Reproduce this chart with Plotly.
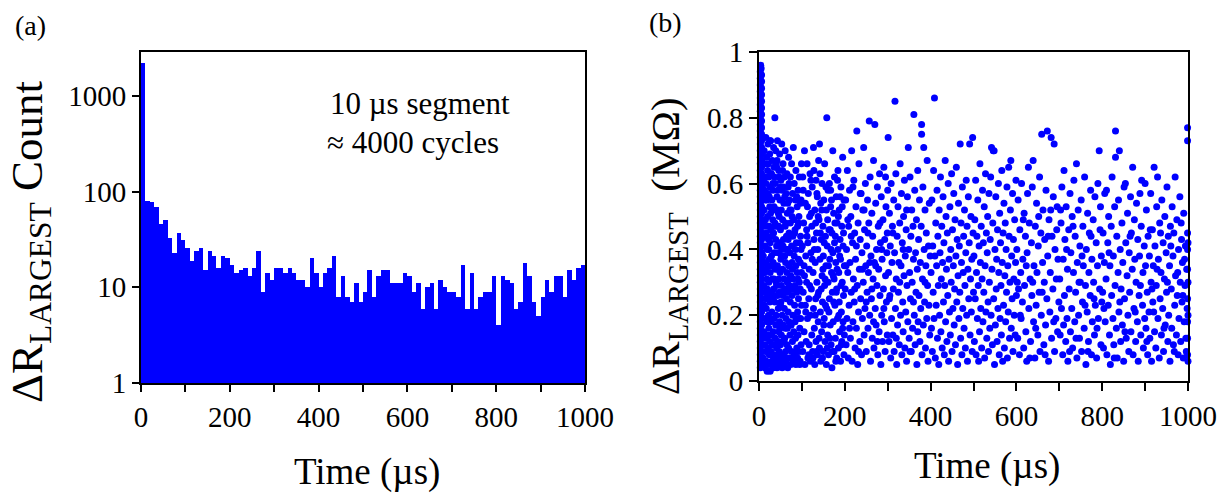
import plotly.graph_objects as go

W, H = 1228, 500
FONT = "Liberation Serif"
BLUE = "rgb(0,0,255)"

# ---------------- (a) histogram: counts per 10 us bin ----------------
bin_start_us = list(range(0, 1000, 10))
bin_counts = [
    2200, 80, 77, 69, 46, 50, 33, 23, 37, 31,
    26, 19, 24, 26, 15, 24, 21, 16, 21, 20,
    17, 14, 15, 16, 13, 16, 24, 9, 14, 12,
    16, 16, 14, 16, 14, 12, 12, 10, 20, 14,
    10, 14, 16, 21, 8, 13, 8, 7, 11, 7,
    9, 15, 8, 13, 15, 15, 11, 11, 11, 14,
    13, 9, 11, 6, 10, 11, 6, 12, 10, 9,
    9, 8, 17, 6, 14, 6, 8, 9, 9, 13,
    4, 13, 12, 11, 6, 7, 18, 13, 7, 5,
    8, 12, 9, 13, 13, 8, 15, 12, 16, 17,
]

# ---------------- (b) scatter: (time us, dR MOhm) ----------------
col_0_10 = [
    (3,.04),(6,.05),(3,.06),(6,.07),(3,.08),(6,.09),(3,.10),(6,.11),(3,.12),(6,.13),
    (3,.14),(6,.15),(3,.16),(6,.17),(3,.18),(6,.19),(3,.20),(6,.21),(3,.22),(6,.23),
    (3,.24),(6,.25),(3,.26),(6,.27),(3,.28),(6,.29),(3,.30),(6,.31),(3,.32),(6,.33),
    (3,.34),(6,.35),(3,.36),(6,.37),(3,.38),(6,.39),(3,.40),(6,.41),(3,.42),(6,.43),
    (3,.44),(6,.45),(3,.46),(6,.47),(3,.48),(6,.49),(3,.50),(6,.51),(3,.52),(6,.53),
    (3,.54),(6,.55),(3,.56),(6,.57),(3,.58),(6,.59),(3,.60),(6,.61),(3,.62),(6,.63),
    (3,.64),(6,.65),(3,.66),(6,.67),(3,.68),(6,.69),(3,.70),(6,.71),(3,.72),(6,.73),
    (3,.74),(6,.75),(3,.76),(6,.77),(3,.78),(6,.79),(3,.80),(6,.81),(3,.82),(6,.83),
    (3,.84),(6,.85),(3,.86),(6,.87),(3,.88),(6,.89),(3,.90),(6,.91),(3,.92),(6,.93),
    (3,.94),(5,.95),(4,.96),
]
seg_10_100 = [
    (10,.07),(10,.38),(10,.61),(11,.15),(11,.44),(11,.29),(12,.05),(12,.52),(12,.70),(12,.23),
    (13,.33),(13,.11),(13,.58),(14,.41),(14,.19),(14,.66),(14,.04),(15,.27),(15,.49),(15,.09),
    (16,.36),(16,.60),(16,.14),(16,.74),(17,.22),(17,.45),(17,.06),(18,.31),(18,.55),(18,.13),
    (18,.68),(19,.40),(19,.18),(19,.03),(20,.50),(20,.26),(20,.64),(21,.10),(21,.35),(21,.57),
    (21,.72),(22,.20),(22,.43),(22,.05),(23,.30),(23,.62),(23,.16),(24,.47),(24,.08),(24,.37),
    (24,.56),(25,.24),(25,.69),(25,.12),(26,.42),(26,.03),(26,.33),(26,.59),(27,.18),(27,.51),
    (27,.73),(28,.27),(28,.09),(28,.46),(29,.63),(29,.14),(29,.38),(30,.55),(30,.21),(30,.06),
    (30,.44),(31,.31),(31,.67),(31,.11),(32,.49),(32,.25),(32,.04),(33,.58),(33,.36),(33,.15),
    (34,.71),(34,.28),(34,.45),(35,.08),(35,.53),(35,.19),(36,.39),(36,.62),(36,.05),(37,.80),
    (37,.24),(37,.48),(38,.13),(38,.34),(38,.60),(39,.07),(39,.43),(39,.70),(40,.20),(40,.52),
    (40,.30),(41,.10),(41,.65),(41,.41),(42,.17),(42,.56),(42,.04),(43,.35),(43,.73),(43,.26),
    (44,.47),(44,.12),(44,.58),(45,.22),(45,.06),(45,.39),(46,.64),(46,.31),(46,.15),(47,.50),
    (47,.09),(47,.27),(48,.69),(48,.42),(48,.18),(49,.05),(49,.55),(49,.33),(50,.11),(50,.46),
    (50,.23),(51,.61),(51,.37),(51,.07),(52,.29),(52,.52),(52,.14),(53,.72),(53,.40),(54,.20),
    (54,.04),(54,.58),(55,.34),(55,.12),(55,.49),(56,.26),(56,.66),(57,.08),(57,.43),(57,.17),
    (58,.54),(58,.31),(59,.05),(59,.62),(59,.22),(60,.38),(60,.13),(61,.47),(61,.28),(61,.70),
    (62,.09),(62,.36),(63,.57),(63,.19),(63,.06),(64,.44),(64,.25),(65,.63),(65,.11),(65,.33),
    (66,.51),(66,.16),(67,.40),(67,.04),(67,.27),(68,.59),(68,.21),(69,.35),(69,.10),(69,.68),
    (70,.45),(70,.18),(71,.29),(71,.55),(71,.07),(72,.14),(72,.39),(73,.62),(73,.24),(73,.48),
    (74,.05),(74,.32),(75,.52),(75,.17),(76,.41),(76,.09),(76,.66),(77,.26),(77,.36),(78,.12),
    (78,.57),(79,.44),(79,.20),(80,.71),(80,.06),(80,.31),(81,.49),(81,.15),(82,.38),(82,.60),
    (83,.23),(83,.08),(84,.46),(84,.29),(85,.13),(85,.55),(86,.35),(86,.05),(86,.64),(87,.19),
    (87,.42),(88,.27),(88,.10),(89,.53),(89,.33),(90,.07),(90,.47),(90,.21),(91,.58),(91,.14),
    (92,.37),(92,.25),(93,.09),(93,.50),(94,.30),(94,.62),(95,.16),(95,.42),(96,.06),(96,.28),
    (97,.54),(97,.19),(98,.40),(98,.11),(99,.33),(99,.66),(99,.23),
    (11,.56),(13,.47),(15,.62),(17,.34),(19,.28),(20,.14),(22,.66),(23,.40),(25,.53),(27,.08),
    (28,.63),(29,.25),(31,.52),(33,.04),(34,.11),(35,.65),(36,.26),(38,.47),(39,.17),(41,.29),
    (42,.67),(44,.34),(45,.51),(47,.62),(48,.08),(50,.59),(51,.24),(53,.06),(55,.64),(56,.41),
    (58,.12),(60,.56),(62,.48),(64,.07),(66,.30),(68,.43),(70,.60),(72,.52),(74,.17),(77,.50),
    (79,.07),(81,.28),(83,.45),(85,.40),(88,.56),(91,.31),(93,.19),(95,.05),(97,.44),(12,.33),
    (14,.55),(16,.25),(18,.44),(21,.47),(24,.19),(26,.73),(30,.35),(32,.60),(35,.31),(37,.11),
    (40,.66),(43,.52),(46,.47),(49,.16),(52,.38),(54,.27),(57,.59),(61,.16),(63,.40),(67,.54),
    (70,.31),(75,.28),(78,.34),(84,.18),(87,.09),(92,.48),(96,.36),(98,.55),
]
seg_100_200 = [
    (101,.41),(102,.09),(102,.62),(103,.27),(104,.48),(105,.15),(105,.35),(106,.70),(107,.05),(108,.23),
    (108,.54),(109,.38),(110,.12),(111,.46),(111,.30),(112,.66),(113,.19),(114,.07),(114,.42),(115,.57),
    (116,.25),(117,.34),(117,.11),(118,.50),(119,.63),(120,.20),(120,.06),(121,.39),(122,.28),(123,.47),
    (123,.14),(124,.59),(125,.09),(126,.33),(127,.71),(127,.22),(128,.43),(129,.16),(130,.52),(130,.05),
    (131,.36),(132,.25),(133,.61),(133,.12),(134,.45),(135,.30),(136,.08),(136,.56),(137,.40),(138,.18),
    (139,.67),(139,.27),(140,.49),(141,.72),(141,.10),(142,.37),(143,.21),(144,.54),(144,.06),(145,.43),
    (146,.15),(147,.32),(147,.60),(148,.24),(149,.47),(150,.09),(150,.38),(151,.55),(152,.19),(153,.29),
    (153,.66),(154,.12),(155,.44),(156,.35),(157,.05),(157,.52),(158,.80),(158,.22),(159,.41),(160,.14),
    (161,.58),(161,.30),(162,.08),(163,.46),(164,.60),(164,.25),(165,.37),(166,.17),(167,.53),(167,.58),
    (168,.11),(169,.33),(170,.45),(170,.04),(171,.27),(172,.70),(172,.39),(173,.18),(174,.51),(175,.09),
    (175,.31),(176,.62),(177,.23),(178,.44),(178,.13),(179,.36),(180,.56),(181,.07),(181,.28),(182,.48),
    (183,.19),(184,.40),(184,.64),(185,.10),(186,.33),(187,.52),(187,.24),(188,.15),(189,.43),(190,.06),
    (190,.37),(191,.59),(192,.21),(193,.47),(193,.12),(194,.30),(195,.68),(196,.18),(196,.41),(197,.26),
    (198,.55),(198,.08),(199,.35),
    (103,.58),(106,.32),(109,.21),(112,.44),(113,.53),(116,.08),(118,.29),(121,.61),(122,.51),(124,.37),
    (126,.07),(128,.64),(129,.40),(131,.20),(132,.48),(134,.09),(135,.57),(137,.26),(138,.50),(140,.13),
    (142,.63),(143,.45),(145,.28),(146,.52),(148,.07),(149,.34),(151,.17),(152,.42),(154,.31),(155,.23),
    (156,.59),(159,.10),(160,.49),(162,.35),(163,.21),(165,.13),(166,.46),(168,.40),(169,.55),(171,.09),
    (173,.32),(174,.24),(176,.42),(177,.48),(179,.06),(180,.27),(182,.34),(183,.61),(185,.50),(186,.20),
    (188,.38),(189,.56),(191,.29),(192,.11),(194,.53),(195,.16),(197,.45),(199,.14),
]
seg_200_300 = [
    (201,.28),(202,.55),(203,.11),(204,.40),(205,.19),(206,.64),(207,.33),(208,.07),(209,.47),(210,.23),
    (211,.58),(212,.36),(213,.13),(214,.50),(215,.27),(216,.70),(217,.06),(218,.42),(219,.18),(220,.31),
    (221,.61),(222,.24),(223,.45),(224,.10),(225,.37),(226,.53),(227,.16),(228,.76),(229,.29),(230,.05),
    (231,.48),(232,.21),(233,.66),(234,.34),(235,.12),(236,.43),(237,.25),(238,.57),(239,.08),(240,.39),
    (241,.19),(242,.52),(243,.30),(244,.71),(245,.14),(246,.46),(247,.22),(248,.60),(249,.35),(250,.09),
    (251,.41),(252,.27),(253,.55),(254,.16),(255,.33),(256,.48),(257,.79),(258,.20),(259,.62),(260,.06),
    (261,.38),(262,.25),(263,.51),(264,.13),(265,.44),(266,.31),(267,.67),(268,.10),(269,.36),(270,.78),
    (271,.22),(272,.54),(273,.17),(274,.40),(275,.29),(276,.59),(277,.08),(278,.47),(279,.34),(280,.15),
    (281,.63),(282,.26),(283,.42),(284,.05),(285,.56),(286,.20),(287,.37),(288,.12),(289,.49),(290,.28),
    (291,.65),(292,.18),(293,.43),(294,.09),(295,.32),(296,.53),(297,.24),(298,.39),(299,.14),(300,.58),
    (203,.35),(207,.49),(211,.16),(215,.44),(219,.59),(223,.28),(227,.41),(232,.09),(236,.57),(241,.34),
    (245,.52),(250,.24),(254,.45),(258,.36),(263,.28),(267,.18),(272,.35),(276,.12),(282,.48),(286,.40),
    (291,.22),(295,.62),(299,.45),
]
seg_300_400 = [
    (301,.74),(302,.33),(303,.12),(304,.51),(305,.26),(306,.41),(307,.07),(308,.60),(309,.19),(310,.36),
    (311,.47),(312,.14),(313,.28),(314,.55),(315,.09),(316,.39),(317,.85),(318,.22),(319,.63),(320,.31),
    (321,.05),(322,.44),(323,.17),(324,.53),(325,.27),(326,.36),(327,.11),(328,.48),(329,.66),(330,.20),
    (331,.35),(332,.57),(333,.08),(334,.42),(335,.24),(336,.15),(337,.50),(338,.32),(339,.61),(340,.10),
    (341,.38),(342,.21),(343,.46),(344,.06),(345,.29),(346,.56),(347,.18),(348,.71),(349,.40),(350,.13),
    (351,.33),(352,.62),(353,.25),(354,.44),(355,.09),(356,.52),(357,.30),(358,.16),(359,.47),(360,.37),
    (361,.81),(362,.20),(363,.58),(364,.11),(365,.39),(366,.27),(367,.49),(368,.05),(369,.34),(370,.64),
    (371,.18),(372,.43),(373,.26),(374,.55),(375,.12),(376,.36),(377,.22),(378,.47),(379,.78),(379,.75),
    (380,.08),(381,.31),(382,.59),(383,.17),(384,.71),(385,.40),(386,.24),(387,.52),(388,.10),(389,.35),
    (390,.45),(391,.19),(392,.67),(393,.29),(394,.06),(395,.41),(396,.23),(397,.54),(398,.14),(399,.38),
    (304,.25),(312,.45),(320,.13),(328,.30),(336,.40),(344,.52),(352,.09),(360,.24),(370,.15),(387,.30),
]
seg_400_500 = [
    (401,.33),(402,.16),(403,.55),(404,.09),(405,.41),(406,.27),(407,.64),(408,.19),(409,.86),(410,.38),
    (411,.07),(412,.48),(413,.23),(414,.35),(415,.58),(416,.13),(417,.44),(418,.29),(419,.05),(420,.52),
    (421,.20),(422,.39),(423,.62),(424,.15),(425,.31),(426,.47),(427,.10),(428,.36),(429,.56),(430,.24),
    (431,.42),(432,.08),(433,.29),(434,.67),(435,.18),(436,.50),(437,.34),(438,.12),(439,.45),(440,.26),
    (441,.60),(442,.06),(443,.37),(444,.21),(445,.53),(446,.14),(447,.40),(448,.30),(449,.63),(450,.09),
    (451,.46),(452,.22),(453,.35),(454,.57),(455,.17),(456,.28),(457,.49),(458,.11),(459,.38),(460,.65),
    (461,.24),(462,.43),(463,.05),(464,.32),(465,.54),(466,.19),(467,.41),(468,.27),(469,.72),(470,.13),
    (471,.48),(472,.36),(473,.08),(474,.59),(475,.22),(476,.33),(477,.44),(478,.16),(479,.52),(480,.29),
    (481,.10),(482,.39),(483,.61),(484,.20),(485,.47),(486,.06),(487,.34),(488,.56),(489,.25),(490,.42),
    (491,.72),(492,.14),(493,.31),(494,.50),(495,.21),(496,.37),(497,.09),(498,.74),(499,.45),(500,.27),
]
seg_500_600 = [
    (501,.38),(502,.12),(503,.49),(504,.25),(505,.61),(506,.08),(507,.33),(508,.44),(509,.19),(510,.55),
    (511,.29),(512,.06),(513,.41),(514,.15),(515,.66),(516,.36),(517,.22),(518,.47),(519,.10),(520,.31),
    (521,.58),(522,.18),(523,.42),(524,.27),(525,.53),(526,.07),(527,.35),(528,.63),(529,.21),(530,.45),
    (531,.13),(532,.39),(533,.50),(534,.24),(535,.09),(536,.57),(537,.30),(538,.16),(539,.43),(540,.62),
    (541,.20),(542,.71),(543,.34),(544,.11),(545,.48),(546,.70),(547,.25),(548,.70),(549,.05),(550,.40),
    (551,.17),(552,.56),(553,.28),(554,.37),(555,.12),(556,.46),(557,.22),(558,.60),(559,.33),(560,.08),
    (561,.51),(562,.19),(563,.42),(564,.29),(565,.14),(566,.64),(567,.36),(568,.06),(569,.45),(570,.23),
    (571,.54),(572,.10),(573,.32),(574,.48),(575,.18),(576,.40),(577,.27),(578,.59),(579,.07),(580,.35),
    (581,.21),(582,.65),(583,.44),(584,.13),(585,.30),(586,.52),(587,.67),(588,.16),(589,.38),(590,.25),
    (591,.57),(592,.09),(593,.43),(594,.31),(595,.20),(596,.49),(597,.14),(598,.36),(599,.61),(600,.26),
]
seg_600_700 = [
    (601,.40),(603,.13),(604,.55),(605,.28),(607,.08),(608,.46),(610,.33),(611,.19),(612,.60),(614,.24),
    (615,.37),(617,.10),(618,.51),(619,.29),(621,.44),(622,.15),(624,.06),(625,.39),(626,.57),(628,.65),
    (629,.22),(630,.48),(632,.31),(633,.12),(635,.42),(636,.26),(637,.59),(639,.67),(640,.18),(641,.35),
    (643,.07),(644,.47),(646,.23),(647,.54),(648,.33),(650,.14),(651,.41),(653,.27),(654,.62),(655,.09),
    (657,.45),(658,.20),(659,.75),(661,.36),(662,.52),(664,.11),(665,.30),(666,.43),(668,.17),(669,.58),
    (671,.25),(672,.76),(673,.38),(675,.06),(676,.49),(678,.21),(679,.33),(681,.74),(682,.13),(683,.44),
    (685,.28),(686,.56),(688,.72),(689,.09),(690,.40),(692,.19),(693,.31),(695,.53),(696,.15),(697,.37),
    (699,.24),(602,.30),(609,.20),(616,.49),(623,.35),(631,.07),(638,.30),(645,.16),(652,.50),(660,.27),
    (667,.08),(674,.44),(680,.52),(687,.18),(694,.46),
]
seg_700_800 = [
    (701,.31),(702,.14),(704,.48),(705,.22),(706,.59),(708,.08),(709,.37),(711,.64),(712,.26),(713,.43),
    (715,.12),(716,.53),(718,.19),(719,.34),(720,.06),(722,.46),(723,.28),(725,.57),(726,.15),(727,.39),
    (729,.22),(730,.50),(731,.10),(733,.33),(734,.61),(736,.18),(737,.44),(738,.27),(740,.66),(741,.07),
    (742,.36),(744,.52),(745,.20),(747,.13),(748,.41),(749,.30),(751,.55),(752,.09),(754,.24),(755,.47),
    (756,.35),(758,.16),(759,.62),(761,.29),(762,.05),(763,.40),(765,.21),(766,.51),(768,.12),(769,.33),
    (770,.45),(772,.26),(773,.58),(775,.08),(776,.37),(777,.18),(779,.49),(780,.30),(782,.14),(783,.56),
    (784,.23),(786,.42),(787,.07),(789,.35),(790,.60),(791,.19),(793,.70),(794,.28),(795,.46),(797,.11),
    (798,.38),(799,.24),(703,.52),(710,.17),(717,.40),(724,.09),(732,.47),(739,.13),(746,.30),(753,.38),
    (760,.23),(767,.09),(774,.44),(781,.25),(788,.16),(796,.53),
]
seg_800_900 = [
    (801,.27),(802,.45),(803,.10),(805,.36),(806,.57),(807,.18),(809,.31),(810,.58),(811,.08),(813,.42),
    (814,.23),(815,.50),(817,.14),(818,.35),(819,.05),(821,.47),(822,.26),(823,.62),(825,.19),(826,.38),
    (827,.11),(829,.53),(830,.29),(831,.76),(831,.68),(833,.16),(834,.44),(835,.07),(837,.33),(838,.55),
    (839,.21),(840,.70),(842,.40),(843,.12),(844,.28),(846,.48),(847,.17),(848,.36),(850,.06),(851,.59),
    (852,.25),(854,.60),(855,.42),(856,.13),(858,.32),(859,.51),(860,.20),(862,.09),(863,.39),(864,.27),
    (866,.56),(867,.15),(868,.45),(870,.34),(871,.65),(872,.08),(874,.22),(875,.49),(876,.37),(878,.12),
    (879,.30),(880,.54),(882,.18),(883,.43),(884,.06),(886,.26),(887,.38),(888,.57),(890,.14),(891,.47),
    (892,.61),(894,.23),(895,.33),(896,.10),(898,.41),(899,.19),(900,.60),(804,.22),(816,.39),(828,.07),
    (841,.24),(853,.15),(865,.44),(877,.21),(889,.29),
]
seg_900_1000 = [
    (901,.35),(902,.16),(903,.52),(905,.27),(906,.08),(907,.44),(909,.21),(910,.38),(911,.13),(913,.57),
    (914,.30),(915,.06),(917,.46),(918,.24),(919,.35),(921,.65),(922,.15),(923,.41),(925,.10),(926,.29),
    (927,.53),(929,.62),(930,.19),(931,.37),(933,.07),(934,.48),(935,.25),(937,.33),(938,.14),(939,.55),
    (941,.22),(942,.42),(943,.09),(945,.31),(946,.50),(947,.17),(949,.39),(950,.27),(951,.59),(953,.12),
    (954,.44),(955,.20),(957,.35),(958,.06),(959,.47),(961,.28),(962,.16),(963,.53),(965,.38),(966,.11),
    (967,.45),(969,.23),(970,.62),(971,.32),(973,.14),(974,.49),(975,.26),(977,.08),(978,.40),(979,.19),
    (981,.56),(982,.30),(983,.12),(985,.43),(986,.24),(987,.36),(989,.07),(990,.51),(991,.18),(993,.29),
    (994,.41),(995,.13),(997,.34),(998,.22),(999,.77),(999,.73),(999,.45),(999,.40),(999,.34),(999,.25),
    (999,.18),(999,.13),(999,.08),(1000,.42),(1000,.30),(1000,.20),(1000,.06),(996,.09),(992,.37),(988,.26),
    (984,.48),(976,.33),(968,.09),(960,.41),(952,.30),(944,.16),(936,.45),(928,.34),(920,.21),(912,.46),
    (904,.12),(916,.28),
]

scatter_pts = (col_0_10 + seg_10_100 + seg_100_200 + seg_200_300 + seg_300_400
               + seg_400_500 + seg_500_600 + seg_600_700 + seg_700_800
               + seg_800_900 + seg_900_1000)
t_us = [p[0] for p in scatter_pts]
dr_mohm = [p[1] for p in scatter_pts]

fig = go.Figure()

fig.add_trace(go.Bar(
    x=[s + 5 for s in bin_start_us], y=bin_counts, width=10,
    marker=dict(color=BLUE, line=dict(width=0)),
    xaxis="x", yaxis="y", showlegend=False,
))

fig.add_trace(go.Scatter(
    x=t_us, y=dr_mohm, mode="markers",
    marker=dict(color=BLUE, size=7, line=dict(width=0)),
    cliponaxis=False, xaxis="x2", yaxis="y2", showlegend=False,
))


def px_x(p):
    return p / W


def px_y(p):
    return 1 - p / H


axis_common = dict(
    showline=True, linecolor="black", linewidth=2, mirror=True,
    ticks="outside", tickcolor="black", tickwidth=2,
    showgrid=False, zeroline=False, automargin=False,
    tickfont=dict(family=FONT, size=29, color="black"),
)

fig.update_layout(
    width=W, height=H,
    margin=dict(l=0, r=0, t=0, b=0, autoexpand=False),
    paper_bgcolor="white", plot_bgcolor="white",
    bargap=0,
    xaxis=dict(domain=[px_x(141), px_x(585)], range=[0, 1000], anchor="y",
               tickvals=[0, 200, 400, 600, 800, 1000], ticklen=7,
               minor=dict(tickvals=[100, 300, 500, 700, 900], ticks="outside",
                          ticklen=7, tickwidth=2, tickcolor="black"),
               **axis_common),
    yaxis=dict(domain=[px_y(383), px_y(52)], type="log", range=[0, 3.458], anchor="x",
               tickvals=[1, 10, 100, 1000], ticktext=["1", "10", "100", "1000"], ticklen=7,
               **axis_common),
    xaxis2=dict(domain=[px_x(759), px_x(1188)], range=[0, 1000], anchor="y2",
                tickvals=[0, 200, 400, 600, 800, 1000], ticklen=8,
                minor=dict(tickvals=[100, 300, 500, 700, 900], ticks="outside",
                           ticklen=8, tickwidth=2, tickcolor="black"),
                **axis_common),
    yaxis2=dict(domain=[px_y(381), px_y(52)], range=[0, 1], anchor="x2",
                tickvals=[0, 0.2, 0.4, 0.6, 0.8, 1], ticktext=["0", "0.2", "0.4", "0.6", "0.8", "1"],
                ticklen=8, **axis_common),
)


def label(text, x, y, size, angle=0):
    fig.add_annotation(
        text=text, x=px_x(x), y=px_y(y), xref="paper", yref="paper",
        showarrow=False, textangle=angle, xanchor="center", yanchor="middle",
        font=dict(family=FONT, size=size, color="black"),
    )


label("(a)", 30, 25, 28)
label("(b)", 665, 22, 28)
label("10 µs segment", 420, 104, 31)
label("≈ 4000 cycles", 413, 142, 31)
label("Time (µs)", 367, 472, 37)
label("Time (µs)", 987, 466, 37)
label("ΔR<sub>LARGEST</sub> Count", 30, 242, 45, angle=-90)
label("ΔR<sub>LARGEST</sub>  (MΩ)", 668, 246, 41, angle=-90)

fig.write_html("out.html")
